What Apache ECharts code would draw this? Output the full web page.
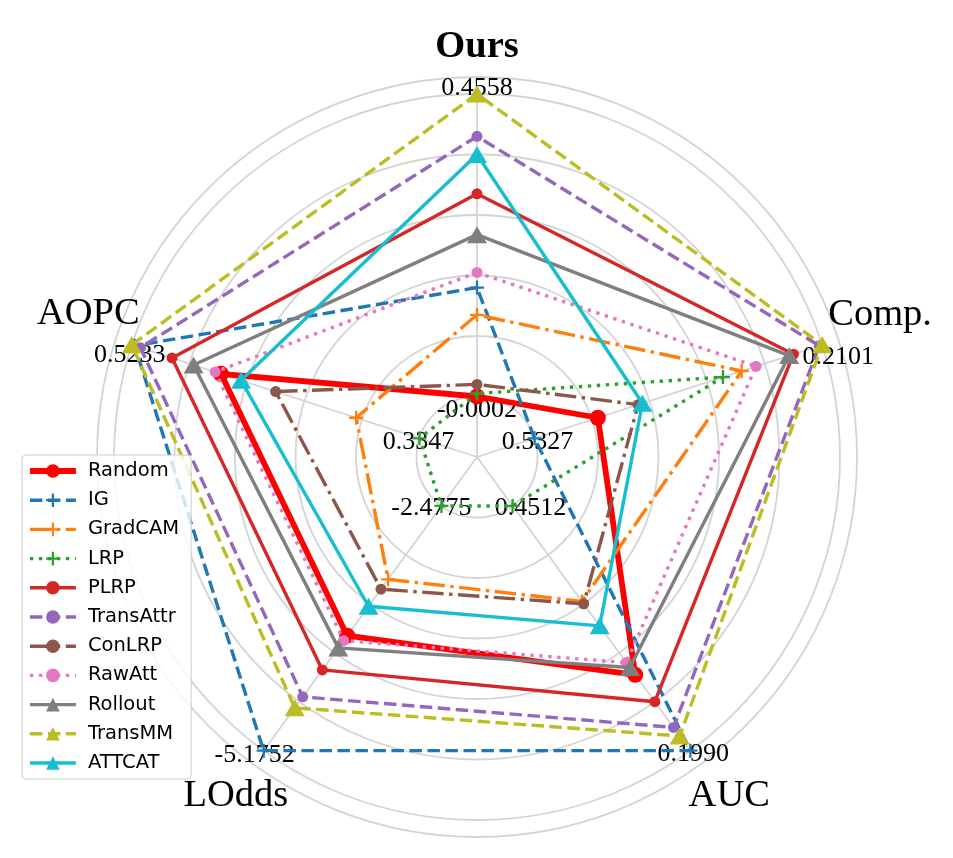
<!DOCTYPE html>
<html>
<head>
<meta charset="utf-8">
<script src="https://cdn.jsdelivr.net/npm/echarts@6/dist/echarts.min.js"></script>
<style>html,body{margin:0;padding:0;background:#fff}#c{width:953px;height:858px}</style>
</head>
<body>
<div id="c"></div>
<script>
// ---- data (axis order as ECharts lays them out: top, then counter-clockwise) ----
const axes = ['Ours', 'AOPC', 'LOdds', 'AUC', 'Comp.'];
const maxLabels = ['0.4558', '0.5233', '-5.1752', '0.1990', '0.2101'];
const minLabels = ['-0.0002', '0.3347', '-2.4775', '0.4512', '0.5327'];
const methods = ['Random', 'IG', 'GradCAM', 'LRP', 'PLRP', 'TransAttr', 'ConLRP', 'RawAtt', 'Rollout', 'TransMM', 'ATTCAT'];
// normalized scores (0 = inner labelled value, 1 = outer labelled value)
const random    = [0.00, 0.69, 0.53, 0.69, 0.22];
const ig        = [0.36, 0.99, 1.00, 1.00, 0.00];
const gradcam   = [0.27, 0.22, 0.30, 0.39, 0.72];
const lrp       = [0.01, 0.00, 0.00, 0.00, 0.655];
const plrp      = [0.67, 0.86, 0.67, 0.80, 0.90];
const transattr = [0.86, 0.97, 0.78, 0.905, 0.99];
const conlrp    = [0.04, 0.50, 0.34, 0.40, 0.36];
const rawatt    = [0.41, 0.71, 0.55, 0.64, 0.77];
const rollout   = [0.535, 0.785, 0.58, 0.66, 0.885];
const transmm   = [1.00, 1.00, 0.825, 0.94, 1.00];
const attcat    = [0.80, 0.62, 0.41, 0.49, 0.375];
const values = [random, ig, gradcam, lrp, plrp, transattr, conlrp, rawatt, rollout, transmm, attcat];

// ---- styles ----
const PLUS = 'path://M-1,-6H1V-1H6V1H1V6H-1V1H-6V-1H-1Z';
const LW = 3.4;
const DASH = [12.5, 5.5], DASHDOT = [21.5, 5.5, 3.4, 5.5], DOT = [3.4, 5.6];
const styles = [
  {color: '#ff0000', type: 'solid', width: 5.8, symbol: 'circle', size: 16},
  {color: '#1f77b4', type: DASH, width: LW, symbol: PLUS, size: 14},
  {color: '#ff7f0e', type: DASHDOT, width: LW, symbol: PLUS, size: 14},
  {color: '#2ca02c', type: DOT, width: LW, symbol: PLUS, size: 14},
  {color: '#d62728', type: 'solid', width: LW, symbol: 'circle', size: 11},
  {color: '#9467bd', type: DASH, width: LW, symbol: 'circle', size: 11},
  {color: '#8c564b', type: DASHDOT, width: LW, symbol: 'circle', size: 11},
  {color: '#e377c2', type: DOT, width: LW, symbol: 'circle', size: 11},
  {color: '#7f7f7f', type: 'solid', width: LW, symbol: 'triangle', size: [20, 17]},
  {color: '#bcbd22', type: DASH, width: LW, symbol: 'triangle', size: [20, 17]},
  {color: '#17becf', type: 'solid', width: LW, symbol: 'triangle', size: [20, 17]}
];

// ---- layout tweaks ----
const SERIF = 'Liberation Serif';
const nameGaps = [49, 52, 54, 61, 64];
const nameShift = [[0, 2], [6, -15], [4, 2], [3, -4], [-3, -10]];
const maxShift = [[0, -6], [-2, 10], [-9, 4], [3, 3], [16, 12]];
const minShift = [[0, 14], [-1, 4], [-10, 2], [18, 2], [3, 4]];
function pad(s) {
  const dx = s[0], dy = s[1];
  return [Math.max(0, 2 * dy), Math.max(0, -2 * dx), Math.max(0, -2 * dy), Math.max(0, 2 * dx)];
}

const nameRich = {};
axes.forEach((n, i) => {
  nameRich['n' + i] = {
    fontFamily: SERIF, fontSize: 38.5, color: '#000',
    fontWeight: i === 0 ? 'bold' : 'normal', padding: pad(nameShift[i])
  };
});

const indicators = axes.map((n, i) => ({
  name: n, min: -0.2, max: 1, nameGap: nameGaps[i],
  axisLabel: {
    show: true, margin: 0, align: 'center', verticalAlign: 'middle',
    fontFamily: SERIF, fontSize: 26, color: '#000',
    formatter: function (v) {
      if (Math.abs(v - 1) < 1e-6) return '{mx|' + maxLabels[i] + '}';
      if (Math.abs(v) < 1e-6) return '{mn|' + minLabels[i] + '}';
      return '';
    },
    rich: {
      mx: {fontFamily: SERIF, fontSize: 26, color: '#000', padding: pad(maxShift[i])},
      mn: {fontFamily: SERIF, fontSize: 26, color: '#000', padding: pad(minShift[i])}
    }
  }
}));

const radarSeries = methods.map((m, k) => ({
  type: 'radar', name: m, radarIndex: 0, z: 2 + k * 0.01,
  symbol: styles[k].symbol, symbolSize: styles[k].size,
  lineStyle: {color: styles[k].color, width: styles[k].width, type: styles[k].type},
  itemStyle: {color: styles[k].color, borderWidth: 0},
  emphasis: {disabled: true},
  data: [{name: m, value: values[k]}]
}));

// legend-only line series (give legend icons with line + marker)
const legendSeries = methods.map((m, k) => ({
  type: 'line', name: m, xAxisIndex: 0, yAxisIndex: 0, data: [],
  symbol: styles[k].symbol, symbolSize: styles[k].size,
  lineStyle: {color: styles[k].color, width: styles[k].width, type: styles[k].type},
  itemStyle: {color: styles[k].color}
}));

const chart = echarts.init(document.getElementById('c'), null, {renderer: 'canvas'});
chart.setOption({
  backgroundColor: '#ffffff',
  animation: false,
  grid: {left: 0, top: 0, width: 1, height: 1, show: false},
  xAxis: {show: false, type: 'value'},
  yAxis: {show: false, type: 'value'},
  legend: {
    orient: 'vertical', left: 22, top: 455,
    padding: [6, 12, 6, 5],
    itemWidth: 46, itemHeight: 17, itemGap: 9.2,
    backgroundColor: 'rgba(255,255,255,0.8)', borderColor: '#cccccc', borderWidth: 1, borderRadius: 4,
    textStyle: {fontFamily: 'DejaVu Sans', fontSize: 19.5, color: '#000', padding: [0, 0, 0, 7], lineHeight: 20},
    lineStyle: {width: 'inherit', type: 'inherit'},
    selectedMode: false,
    data: methods,
    z: 10
  },
  radar: [{
    center: [477, 457], radius: 363, startAngle: 90, shape: 'circle', splitNumber: 6,
    indicator: indicators,
    axisName: {
      show: true, align: 'center', verticalAlign: 'middle',
      fontFamily: SERIF, fontSize: 38.5, color: '#000',
      formatter: function (name) { const i = axes.indexOf(name); return '{n' + i + '|' + name + '}'; },
      rich: nameRich
    },
    splitLine: {lineStyle: {color: '#d4d4d4', width: 1.8}},
    splitArea: {show: false},
    axisLine: {lineStyle: {color: '#d4d4d4', width: 1.8}},
    axisTick: {show: false}
  }, {
    center: [477, 457], radius: 380, startAngle: 90, shape: 'circle', splitNumber: 1,
    indicator: axes.map(n => ({name: n, min: 0, max: 1})),
    axisName: {show: false},
    splitLine: {lineStyle: {color: '#d4d4d4', width: 1.8}},
    splitArea: {show: false},
    axisLine: {show: false},
    axisTick: {show: false},
    axisLabel: {show: false}
  }],
  series: legendSeries.concat(radarSeries)
});
</script>
</body>
</html>
